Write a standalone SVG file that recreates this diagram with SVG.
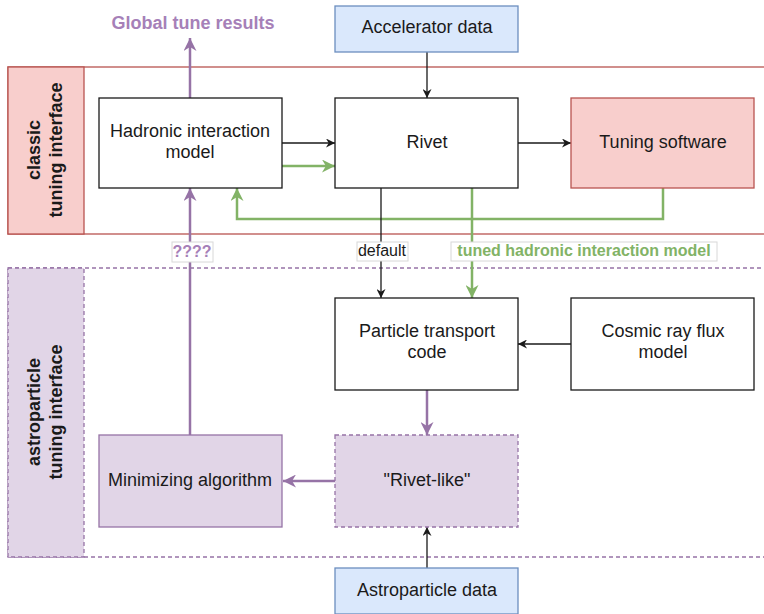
<svg xmlns="http://www.w3.org/2000/svg" width="764" height="614" viewBox="0 0 764 614">
<style>
text{font-family:"Liberation Sans",Arial,Helvetica,sans-serif;font-size:18px;fill:#1a1a1a;text-anchor:middle}
.b{font-weight:bold}
.s{font-size:16px}
.node{fill:#ffffff;stroke:#1a1a1a;stroke-width:1.3}
.red{fill:#f8cecc;stroke:#b85450;stroke-width:1.3}
.blue{fill:#dae8fc;stroke:#6c8ebf;stroke-width:1.3}
.purp{fill:#e1d5e7;stroke:#9673a6;stroke-width:1.3}
.dash{stroke-dasharray:4 3}
.k{fill:none;stroke:#1a1a1a;stroke-width:1.3}
.g{fill:none;stroke:#82b366;stroke-width:2.5}
.p{fill:none;stroke:#9673a6;stroke-width:2.5}
.lbl{fill:#ffffff;stroke:#d8d8d8;stroke-width:1}
</style>
<defs>
<marker id="ak" viewBox="0 0 10 10" refX="10" refY="5" markerWidth="10" markerHeight="9" orient="auto" markerUnits="userSpaceOnUse"><path d="M0,0 L10,5 L0,10 L3,5 Z" fill="#1a1a1a"/></marker>
<marker id="ag" viewBox="0 0 10 10" refX="10" refY="5" markerWidth="15" markerHeight="13" orient="auto" markerUnits="userSpaceOnUse"><path d="M0,0 L10,5 L0,10 L3,5 Z" fill="#82b366"/></marker>
<marker id="ap" viewBox="0 0 10 10" refX="10" refY="5" markerWidth="15" markerHeight="13" orient="auto" markerUnits="userSpaceOnUse"><path d="M0,0 L10,5 L0,10 L3,5 Z" fill="#9673a6"/></marker>
</defs>

<g id="lane-classic">
<rect x="8" y="67" width="760" height="167" fill="none" stroke="#b85450" stroke-width="1.3"/>
<rect x="8" y="67" width="76" height="167" class="red"/>
<text class="b" transform="translate(46,150) rotate(-90)"><tspan x="0" y="-6">classic</tspan><tspan x="0" y="16">tuning interface</tspan></text>
</g>
<g id="lane-astro">
<rect x="8" y="268" width="760" height="289" fill="none" stroke="#9673a6" stroke-width="1.3" class="dash"/>
<rect x="8" y="268" width="76" height="289" class="purp dash"/>
<text class="b" transform="translate(46,412) rotate(-90)"><tspan x="0" y="-6">astroparticle</tspan><tspan x="0" y="16">tuning interface</tspan></text>
</g>

<g id="connectors">
<path class="k" d="M427,52 V98" marker-end="url(#ak)"/>
<path class="k" d="M282,143 H335" marker-end="url(#ak)"/>
<path class="g" d="M282,166 H335" marker-end="url(#ag)"/>
<path class="k" d="M518,143 H571" marker-end="url(#ak)"/>
<path class="g" d="M663,188 V219 H237 V188" marker-end="url(#ag)"/>
<path class="k" d="M381,188 V298" marker-end="url(#ak)"/>
<path class="g" d="M472,188 V298" marker-end="url(#ag)"/>
<path class="p" d="M190,98 V38" marker-end="url(#ap)"/>
<path class="p" d="M190,435 V188" marker-end="url(#ap)"/>
<path class="p" d="M427,390 V435" marker-end="url(#ap)"/>
<path class="p" d="M335,481 H283" marker-end="url(#ap)"/>
<path class="k" d="M427,568 V527" marker-end="url(#ak)"/>
<path class="k" d="M571,344 H518" marker-end="url(#ak)"/>
<rect class="lbl" x="357" y="242" width="51" height="19"/>
<text class="s" x="382" y="256">default</text>
<rect class="lbl" x="451" y="242" width="266" height="19"/>
<text class="b s" x="584" y="256" style="fill:#82b366">tuned hadronic interaction model</text>
<rect class="lbl" x="172" y="242" width="41" height="20"/>
<text class="b s" x="192" y="257" style="fill:#a680b8">????</text>
<text class="b" x="193" y="29" style="fill:#a680b8">Global tune results</text>
</g>

<g id="accelerator-data"><rect class="blue" x="335" y="6" width="183" height="46"/><text x="427" y="33">Accelerator data</text></g>
<g id="hadronic-model"><rect class="node" x="99" y="98" width="183" height="90"/><text x="190" y="137">Hadronic interaction</text><text x="190" y="158">model</text></g>
<g id="rivet"><rect class="node" x="335" y="98" width="183" height="90"/><text x="427" y="148">Rivet</text></g>
<g id="tuning-software"><rect class="red" x="571" y="98" width="183" height="90"/><text x="663" y="148">Tuning software</text></g>
<g id="particle-transport"><rect class="node" x="335" y="298" width="183" height="92"/><text x="427" y="337">Particle transport</text><text x="427" y="358">code</text></g>
<g id="cosmic-ray"><rect class="node" x="571" y="298" width="183" height="92"/><text x="663" y="337">Cosmic ray flux</text><text x="663" y="358">model</text></g>
<g id="minimizing"><rect class="purp" x="99" y="435" width="183" height="92"/><text x="190" y="486">Minimizing algorithm</text></g>
<g id="rivet-like"><rect class="purp dash" x="335" y="435" width="183" height="92"/><text x="427" y="486">"Rivet-like"</text></g>
<g id="astroparticle-data"><rect class="blue" x="335" y="568" width="183" height="46"/><text x="427" y="596">Astroparticle data</text></g>
</svg>
